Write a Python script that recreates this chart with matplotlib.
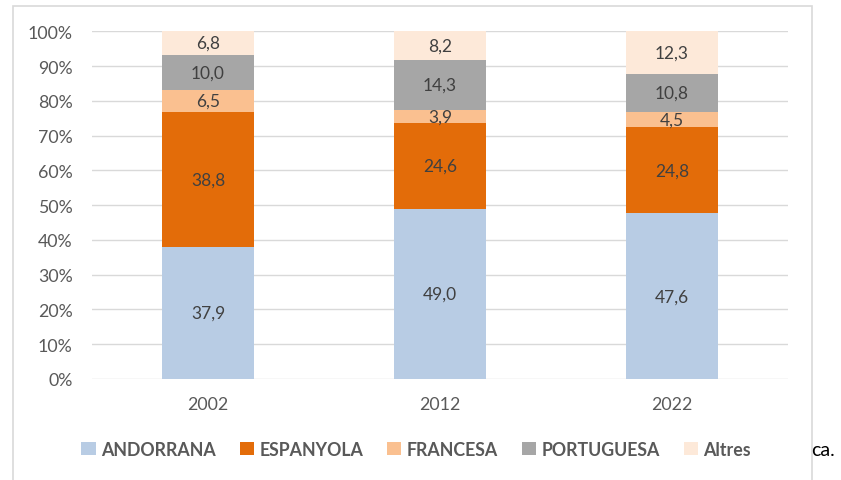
import matplotlib.pyplot as plt
import matplotlib.patches as mpatches
import numpy as np

plt.rcParams['font.family'] = ['Lato', 'DejaVu Sans']

years = ['2002', '2012', '2022']
series = ['ANDORRANA', 'ESPANYOLA', 'FRANCESA', 'PORTUGUESA', 'Altres']
andorrana = [37.9, 49.0, 47.6]
espanyola = [38.8, 24.6, 24.8]
francesa = [6.5, 3.9, 4.5]
portuguesa = [10.0, 14.3, 10.8]
altres = [6.8, 8.2, 12.3]
colors = ['#B8CCE4', '#E36C09', '#FAC090', '#A6A6A6', '#FDE9D9']

values = [andorrana, espanyola, francesa, portuguesa, altres]

fig = plt.figure(figsize=(8.41, 4.81), dpi=100)
ax = fig.add_axes([92 / 841, 1 - 380 / 481, 696 / 841, 347.7 / 481])

x = np.arange(len(years))
bottom = np.zeros(len(years))
for name, vals, col in zip(series, values, colors):
    vals = np.array(vals)
    ax.bar(x, vals, 0.4, bottom=bottom, color=col, label=name, zorder=3)
    for xi, b, v in zip(x, bottom, vals):
        ax.text(xi, b + v / 2, f'{v:.1f}'.replace('.', ','), ha='center', va='center',
                fontsize=12.5, color='#404040', zorder=4)
    bottom += vals

ax.set_xlim(-0.5, 2.5)
ax.set_ylim(0, 100)
ax.set_yticks(np.arange(0, 101, 10))
ax.set_yticklabels([f'{v}%' for v in range(0, 101, 10)])
ax.set_xticks(x)
ax.set_xticklabels(years)
ax.tick_params(axis='both', length=0, labelsize=12.8, colors='#595959')
ax.tick_params(axis='x', pad=12)
ax.tick_params(axis='y', pad=14)
ax.grid(axis='y', color='#D9D9D9', linewidth=1, zorder=0)
for s in ax.spines.values():
    s.set_visible(False)

leg = fig.legend(loc='center', bbox_to_anchor=(0.495, 1 - 450 / 481), ncol=5, frameon=False,
                 handlelength=0.8, handleheight=0.8, handletextpad=0.3, columnspacing=1.35,
                 prop={'weight': 'bold', 'size': 12.8})
for t in leg.get_texts():
    t.set_color('#595959')

# chart border
fig.patches.append(mpatches.Rectangle((13 / 841, -0.05), 799 / 841, 1.05 - 7 / 481,
                                      transform=fig.transFigure, fill=False,
                                      edgecolor='#D9D9D9', linewidth=1.2))
fig.text(823 / 841, 1 - 450 / 481, 'ca.', ha='center', va='center', fontsize=14, color='black')

fig.savefig('out.png', dpi=100)
